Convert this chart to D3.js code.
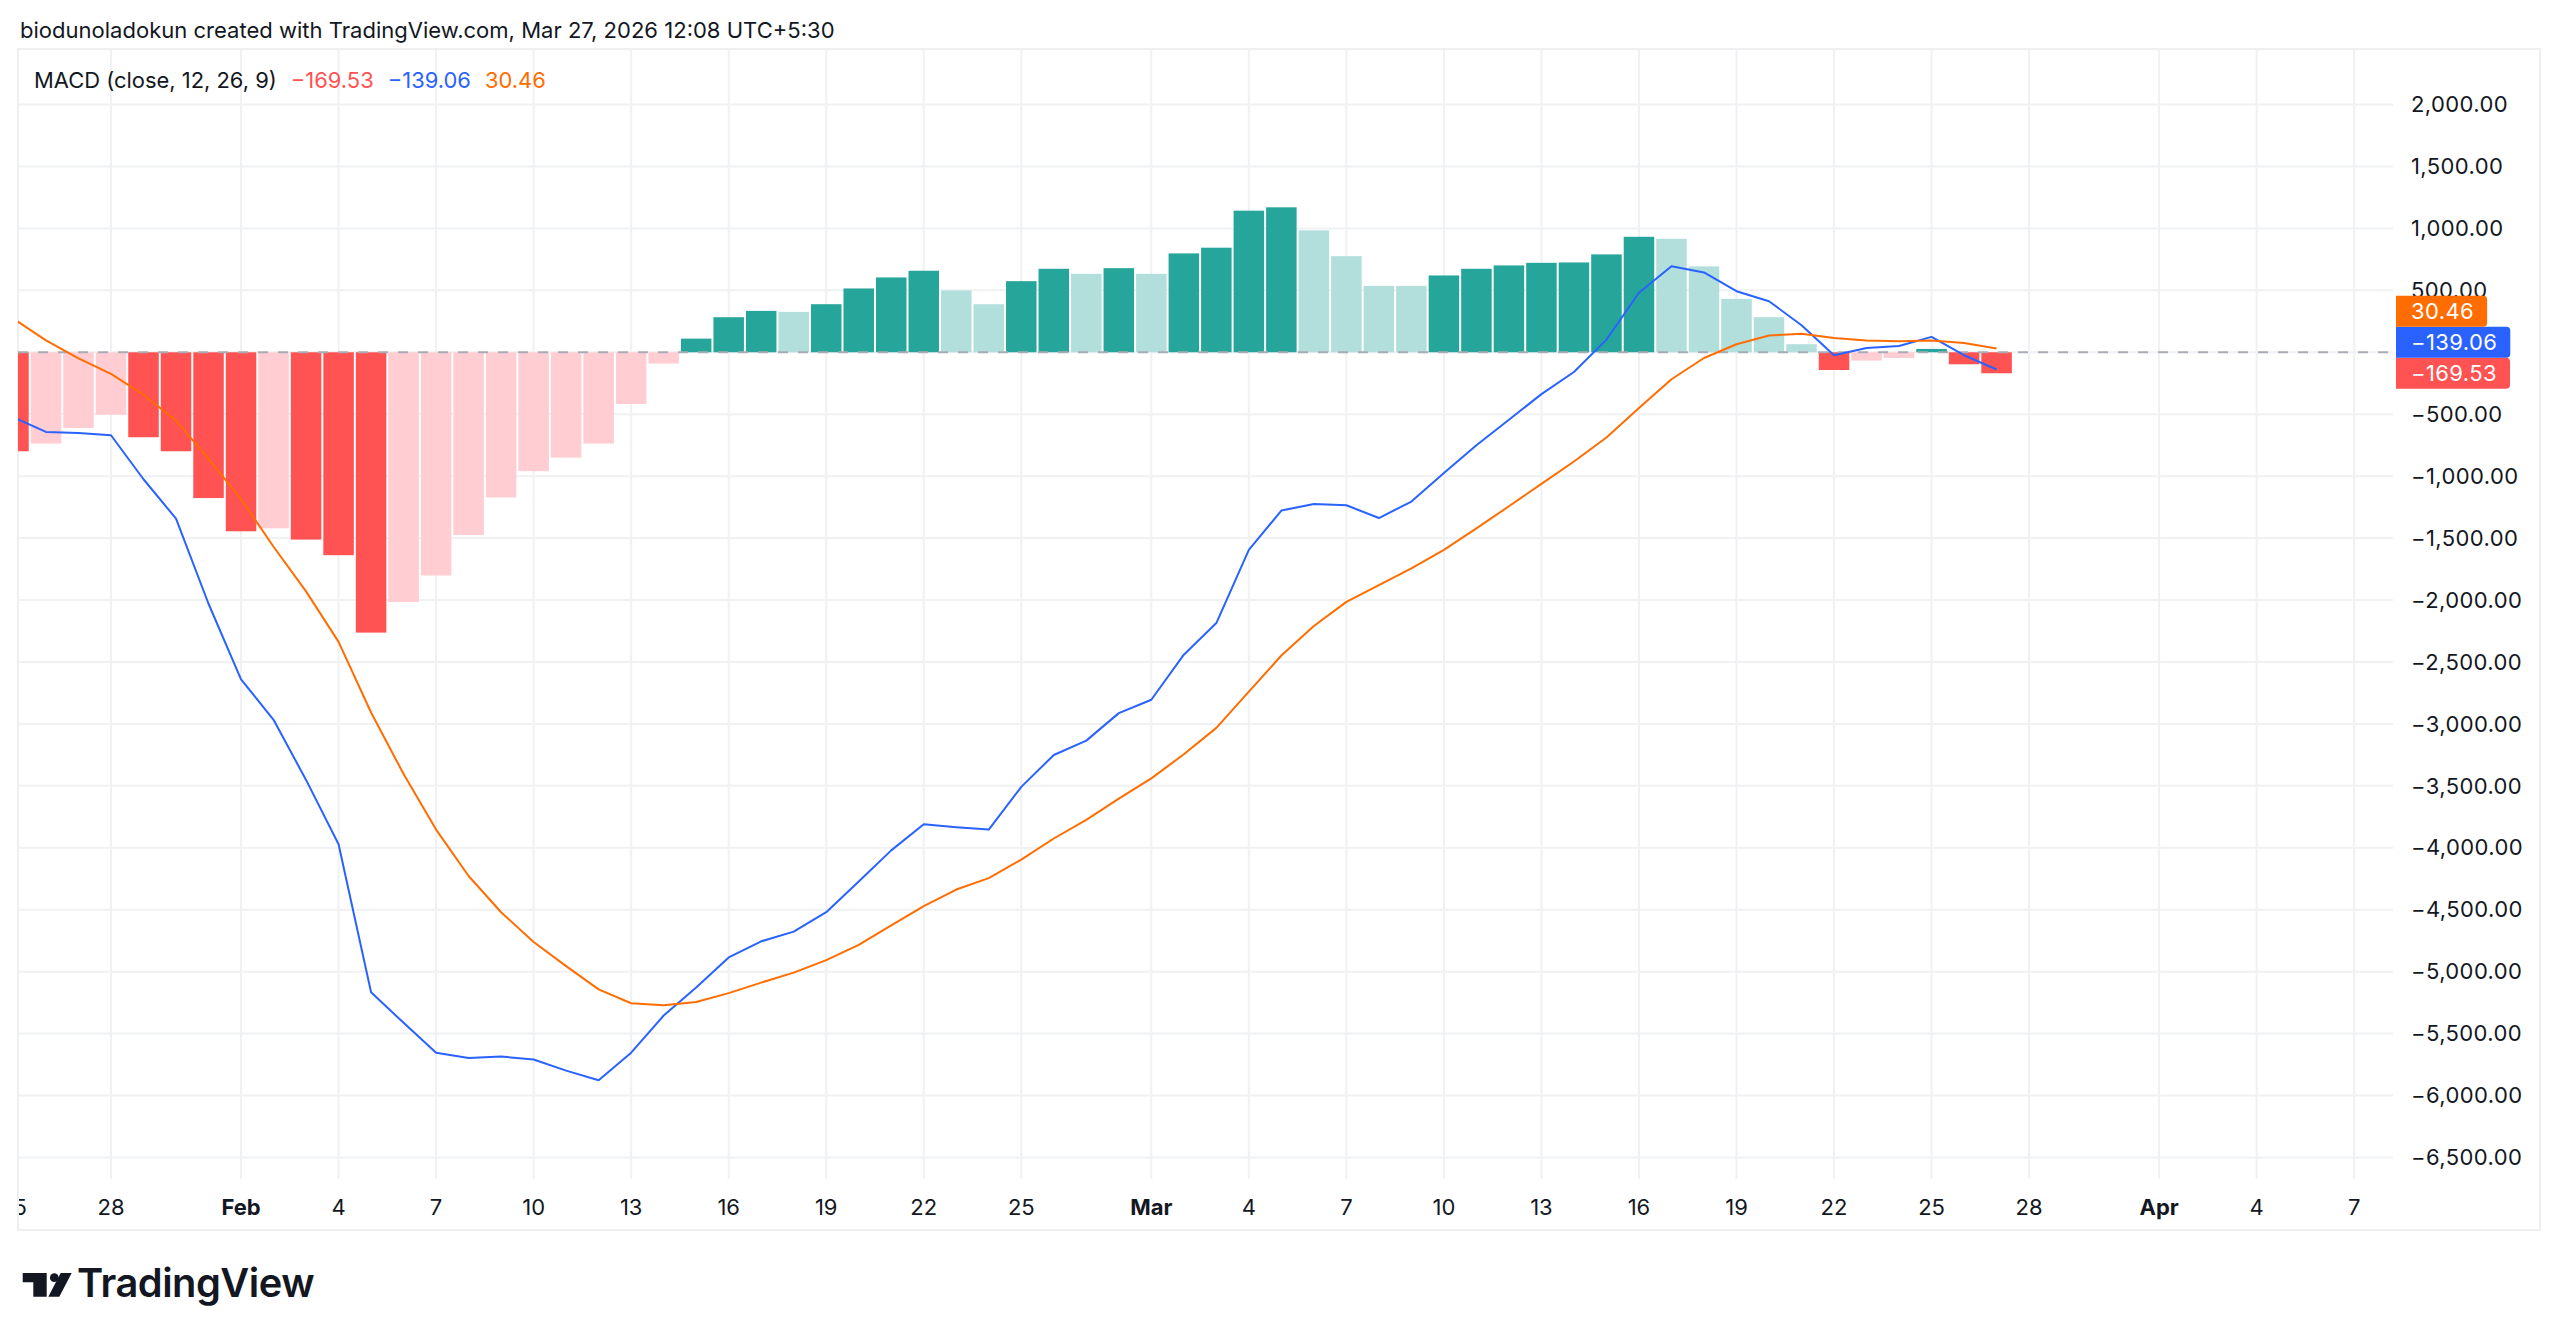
<!DOCTYPE html>
<html>
<head>
<meta charset="utf-8">
<script src="https://cdn.jsdelivr.net/npm/d3@7"></script>
<style>
  body { margin: 0; background: #fff; }
  svg { display: block; font-family: Inter, "Noto Sans", sans-serif; }
</style>
</head>
<body>
<div id="chart"></div>
<script>
// daily bars, Jan 25 -> Mar 27 2026
const firstDay = "2026-01-25";
const lastDay = "2026-03-27";

const histValues = [
  -799, -737, -611, -504, -686, -799, -1177,
  -1445, -1421, -1512, -1638, -2263, -2016, -1802, -1475, -1172, -960, -850, -737, -418, -91,
  110, 283, 334, 326, 388, 515, 604, 658, 499, 388, 574, 674, 633, 679,
  633, 798, 844, 1143, 1170, 984, 776, 536, 536, 620, 674, 701, 722, 725, 790, 932, 916, 693,
  431, 283, 65, -143, -67, -46, 27, -97, -169.53,
];
const macdValues = [
  -525, -643, -652, -670, -1025, -1343, -2030,
  -2640, -2967, -3452, -3971, -5166, -5413, -5654, -5697, -5685, -5709, -5799, -5876, -5654, -5354,
  -5127, -4885, -4755, -4677, -4520, -4272, -4021, -3810, -3834, -3853, -3508, -3251, -3135, -2913,
  -2805, -2441, -2186, -1595, -1278, -1225, -1235, -1338, -1205, -975, -750, -545, -338, -159, 102, 480, 695, 644,
  493, 412, 218, -24, 35, 51, 124, -24, -139.06,
];
const signalValues = [
  270, 96, -50, -175, -343, -552, -860,
  -1185, -1570, -1930, -2338, -2908, -3405, -3853, -4228, -4520, -4760, -4955, -5143, -5255, -5271,
  -5245, -5173, -5088, -5008, -4907, -4783, -4626, -4470, -4337, -4245, -4095, -3925, -3775, -3603,
  -3440, -3245, -3032, -2740, -2448, -2210, -2015, -1880, -1745, -1595, -1422, -1243, -1062, -882, -688, -450, -218, -46,
  65, 135, 150, 115, 94, 89, 94, 75, 30.46,
];

const tickDates = [
  "2026-01-25", "2026-01-28", "2026-02-01", "2026-02-04", "2026-02-07", "2026-02-10", "2026-02-13",
  "2026-02-16", "2026-02-19", "2026-02-22", "2026-02-25", "2026-03-01", "2026-03-04", "2026-03-07",
  "2026-03-10", "2026-03-13", "2026-03-16", "2026-03-19", "2026-03-22", "2026-03-25", "2026-03-28",
  "2026-04-01", "2026-04-04", "2026-04-07",
];
const tickLabels = [
  "25", "28", "Feb", "4", "7", "10", "13", "16", "19", "22", "25", "Mar", "4", "7",
  "10", "13", "16", "19", "22", "25", "28", "Apr", "4", "7",
];
const yTicks = [
  2000, 1500, 1000, 500, 0, -500, -1000, -1500, -2000, -2500, -3000,
  -3500, -4000, -4500, -5000, -5500, -6000, -6500,
];

const headerText = "biodunoladokun created with TradingView.com, Mar 27, 2026 12:08 UTC+5:30";
const studyTitle = "MACD (close, 12, 26, 9)";

const colors = {
  text: "#131722",
  grid: "#f0f1f3",
  macd: "#2962ff",
  signal: "#ff6d00",
  growAbove: "#26a69a",
  fallAbove: "#b2dfdb",
  growBelow: "#ffcdd2",
  fallBelow: "#ff5252",
};

const axisFont = 22;

class MacdChart {
  constructor(id, width, height) {
    this.width = width;
    this.height = height;
    this.svg = d3
      .select(`#${id}`)
      .append("svg")
      .attr("width", width)
      .attr("height", height);
    this.plot = { left: 18, right: 2393, top: 49, bottom: 1179 };
    this.fmt = d3.format(",.2f");

    this.initData();
    this.initScales();
    this.addFrame();
    this.addGrid();
    this.addHistogram();
    this.addLines();
    this.layoutPriceLabels();
    this.addAxes();
    this.addPriceLabels();
    this.addLegend();
    this.addLogo();
  }

  initData() {
    const days = d3.utcDay.range(new Date(firstDay), d3.utcDay.offset(new Date(lastDay), 1));
    this.data = days.map((date, i) => ({
      date,
      hist: histValues[i],
      macd: macdValues[i],
      signal: signalValues[i],
      prev: i > 0 ? histValues[i - 1] : 0,
    }));
  }

  initScales() {
    // 32.5px per day, Jan 28 sits at x=111
    this.x = d3
      .scaleUtc()
      .domain([new Date("2026-01-28"), new Date("2026-04-07")])
      .range([111, 111 + 69 * 32.51]);
    this.y = d3.scaleLinear().domain([2000, -6500]).range([104.5, 1157.5]);
    this.barW = this.x(new Date("2026-01-29")) - this.x(new Date("2026-01-28")) - 2;

    const p = this.plot;
    this.svg
      .append("clipPath")
      .attr("id", "plot-clip")
      .append("rect")
      .attr("x", p.left)
      .attr("y", p.top)
      .attr("width", p.right - p.left)
      .attr("height", p.bottom - p.top);
    this.svg
      .append("clipPath")
      .attr("id", "xaxis-clip")
      .append("rect")
      .attr("x", p.left + 1)
      .attr("y", p.bottom)
      .attr("width", p.right - p.left)
      .attr("height", 52);
  }

  addFrame() {
    this.svg.append("rect").attr("width", this.width).attr("height", this.height).attr("fill", "#fff");
    this.svg
      .append("rect")
      .attr("x", this.plot.left)
      .attr("y", this.plot.top)
      .attr("width", 2540 - this.plot.left)
      .attr("height", 1230 - this.plot.top)
      .attr("fill", "none")
      .attr("stroke", "#eeeff1")
      .attr("stroke-width", 2);
  }

  addGrid() {
    const p = this.plot;
    const g = this.svg.append("g").attr("clip-path", "url(#plot-clip)");
    g.selectAll(".vgrid")
      .data(tickDates)
      .join("line")
      .attr("x1", (d) => this.x(new Date(d)))
      .attr("x2", (d) => this.x(new Date(d)))
      .attr("y1", p.top)
      .attr("y2", p.bottom)
      .attr("stroke", colors.grid)
      .attr("stroke-width", 2);
    g.selectAll(".hgrid")
      .data(yTicks)
      .join("line")
      .attr("x1", p.left)
      .attr("x2", p.right)
      .attr("y1", (d) => this.y(d))
      .attr("y2", (d) => this.y(d))
      .attr("stroke", colors.grid)
      .attr("stroke-width", 2);
  }

  barColor(d) {
    if (d.hist >= 0) return d.prev < d.hist ? colors.growAbove : colors.fallAbove;
    return d.prev < d.hist ? colors.growBelow : colors.fallBelow;
  }

  addHistogram() {
    const g = this.svg.append("g").attr("clip-path", "url(#plot-clip)");
    g.selectAll("rect")
      .data(this.data)
      .join("rect")
      .attr("x", (d) => this.x(d.date) - this.barW / 2)
      .attr("width", this.barW)
      .attr("y", (d) => Math.min(this.y(0), this.y(d.hist)))
      .attr("height", (d) => Math.abs(this.y(d.hist) - this.y(0)))
      .attr("fill", (d) => this.barColor(d));

    // dashed zero line over the bars
    g.append("line")
      .attr("x1", this.plot.left)
      .attr("x2", this.plot.right)
      .attr("y1", this.y(0))
      .attr("y2", this.y(0))
      .attr("stroke", "#a9acb4")
      .attr("stroke-width", 2)
      .attr("stroke-dasharray", "10,10");
  }

  addLines() {
    const g = this.svg.append("g").attr("clip-path", "url(#plot-clip)");
    const line = (key) =>
      d3
        .line()
        .x((d) => this.x(d.date))
        .y((d) => this.y(d[key]));
    g.append("path")
      .attr("d", line("macd")(this.data))
      .attr("fill", "none")
      .attr("stroke", colors.macd)
      .attr("stroke-width", 2)
      .attr("stroke-linejoin", "round");
    g.append("path")
      .attr("d", line("signal")(this.data))
      .attr("fill", "none")
      .attr("stroke", colors.signal)
      .attr("stroke-width", 2)
      .attr("stroke-linejoin", "round");
  }

  // last-value boxes on the price scale, pushed apart so they don't overlap
  layoutPriceLabels() {
    const last = this.data[this.data.length - 1];
    this.boxH = 31;
    this.priceItems = [
      { v: last.signal, color: colors.signal },
      { v: last.macd, color: colors.macd },
      { v: last.hist, color: colors.fallBelow },
    ].sort((a, b) => a.v - b.v);
    let limit = Infinity;
    this.priceItems.forEach((it) => {
      it.cy = Math.min(this.y(it.v), limit);
      limit = it.cy - this.boxH;
    });
  }

  addAxes() {
    // scale labels that sit fully under a value box are hidden, as on TradingView
    const hidden = (d) =>
      this.priceItems.some((it) => Math.abs(this.y(d) - it.cy) < this.boxH / 2 - 2);
    this.svg
      .append("g")
      .selectAll("text")
      .data(yTicks.filter((d) => !hidden(d)))
      .join("text")
      .attr("x", 2411)
      .attr("y", (d) => this.y(d))
      .attr("dy", "0.35em")
      .attr("font-size", axisFont)
      .attr("letter-spacing", 0.4)
      .attr("fill", colors.text)
      .text((d) => this.fmt(d));

    this.svg
      .append("g")
      .attr("clip-path", "url(#xaxis-clip)")
      .selectAll("text")
      .data(tickDates)
      .join("text")
      .attr("x", (d) => this.x(new Date(d)))
      .attr("y", 1207)
      .attr("dy", "0.35em")
      .attr("text-anchor", "middle")
      .attr("font-size", axisFont)
      .attr("font-weight", (d, i) => (isNaN(+tickLabels[i]) ? 700 : 400))
      .attr("fill", colors.text)
      .text((d, i) => tickLabels[i]);
  }

  addPriceLabels() {
    const g = this.svg.append("g");
    const h = this.boxH;
    this.priceItems.forEach((it) => {
      const t = g
        .append("text")
        .attr("x", 2411)
        .attr("y", it.cy)
        .attr("dy", "0.35em")
        .attr("font-size", axisFont)
        .attr("letter-spacing", 0.4)
        .attr("fill", "#fff")
        .text(this.fmt(it.v));
      const w = t.node().getComputedTextLength() + 28;
      const x0 = 2396, y0 = it.cy - h / 2, r = 4;
      g.insert("path", "text")
        .attr(
          "d",
          `M${x0},${y0}H${x0 + w - r}q${r},0 ${r},${r}V${y0 + h - r}q0,${r} ${-r},${r}H${x0}Z`
        )
        .attr("fill", it.color);
    });
  }

  fitText(sel, width) {
    const fs = +sel.attr("font-size");
    const k = width / sel.node().getComputedTextLength();
    sel.attr("font-size", fs * k);
    return fs * k;
  }

  addLegend() {
    const header = this.svg
      .append("text")
      .attr("x", 20)
      .attr("y", 30)
      .attr("dy", "0.35em")
      .attr("font-size", 20)
      .attr("fill", colors.text)
      .text(headerText);
    this.fitText(header, 815);

    const last = this.data[this.data.length - 1];
    const parts = [
      { text: studyTitle, color: colors.text },
      { text: this.fmt(last.hist), color: colors.fallBelow },
      { text: this.fmt(last.macd), color: colors.macd },
      { text: this.fmt(last.signal), color: colors.signal },
    ];
    let x = 34;
    let fs = 22;
    parts.forEach((p, i) => {
      const t = this.svg
        .append("text")
        .attr("x", x)
        .attr("y", 80)
        .attr("dy", "0.35em")
        .attr("font-size", fs)
        .attr("fill", p.color)
        .text(p.text);
      if (i === 0) fs = this.fitText(t, 243);
      x += t.node().getComputedTextLength() + 14;
    });
  }

  addLogo() {
    const g = this.svg.append("g").attr("fill", "#131722");
    g.append("path").attr("d", "M22.7,1273H46.7V1296.7H33.3V1282.3H22.7Z");
    g.append("circle").attr("cx", 54.3).attr("cy", 1277.7).attr("r", 4.4);
    g.append("path").attr("d", "M60.7,1273H71.7L59.3,1296.7H48.3Z");
    const t = g
      .append("text")
      .attr("x", 77)
      .attr("y", 1297)
      .attr("font-size", 33)
      .attr("font-weight", 600)
      .attr("letter-spacing", -0.5)
      .text("TradingView");
    this.fitText(t, 236);
  }
}

new MacdChart("chart", 2560, 1342);
</script>
</body>
</html>
